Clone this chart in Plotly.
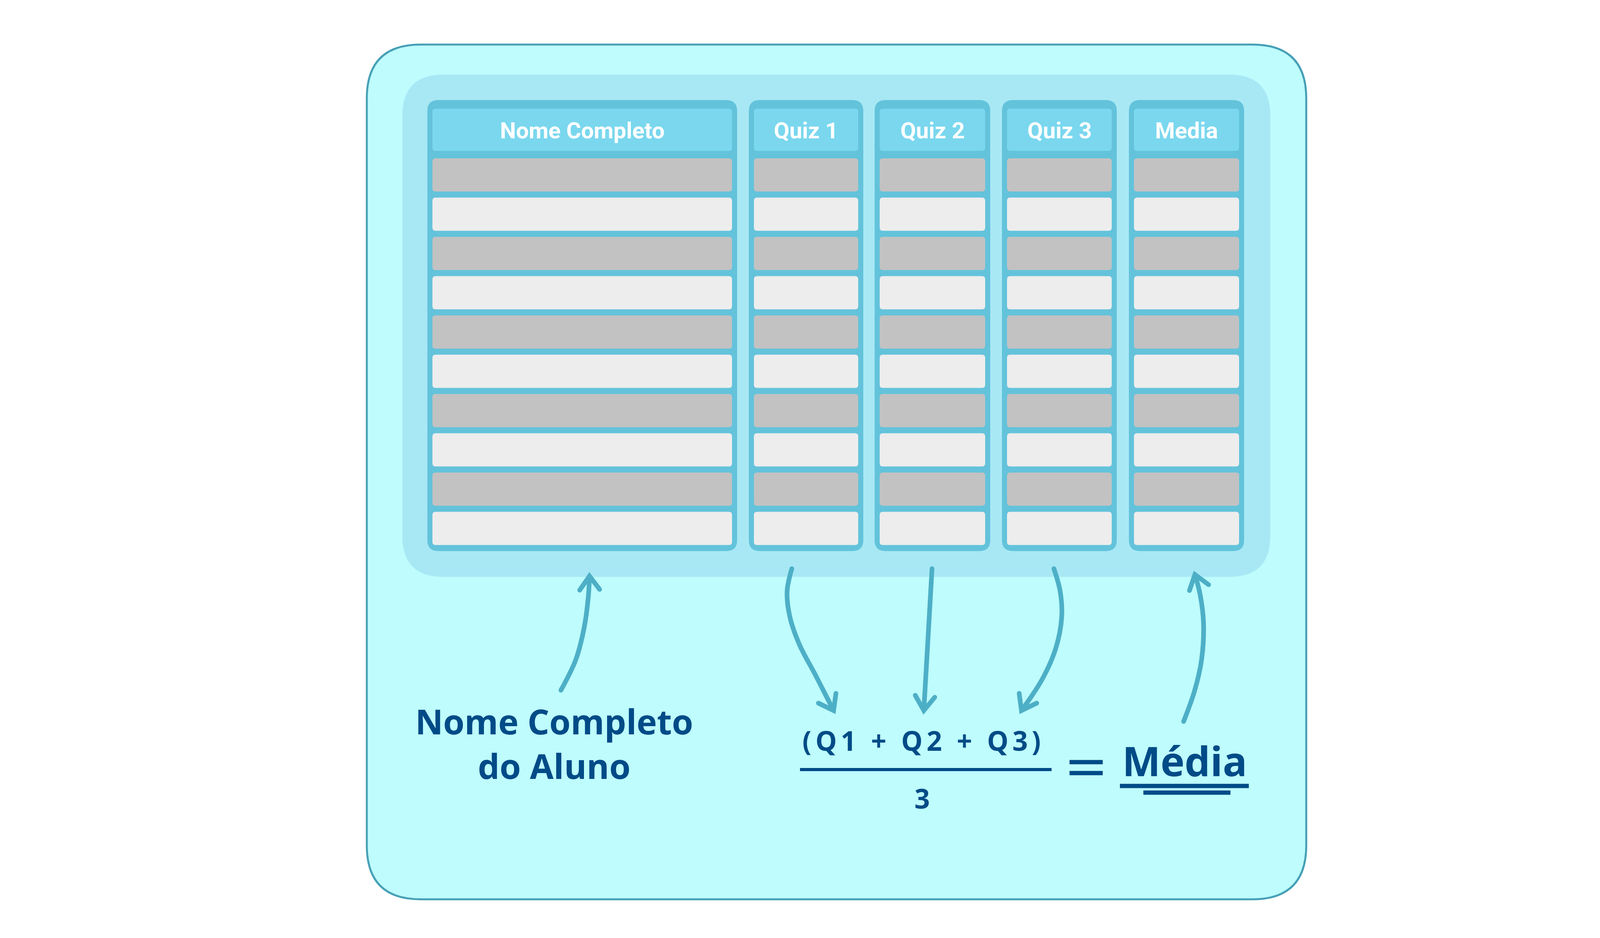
import plotly.graph_objects as pg

# %%
# table content
columns = ["Nome Completo", "Quiz 1", "Quiz 2", "Quiz 3", "Media"]
n_rows = 10
row_fill = ["#C2C2C2", "#EDEDED"]

left_label = ["Nome Completo", "do Aluno"]
formula_top = "(Q1 + Q2 + Q3)"
formula_bottom = "3"
result_label = "Média"

# %%
# geometry (pixels, y downwards)
W, H = 4269, 2400
outer_box = [931, 106, 3336, 2293]
panel_box = [1022, 183, 3244, 1468]
col_left = [1086, 1909, 2231, 2557, 2882]
col_right = [1879, 2202, 2527, 2851, 3177]
frame_top, frame_bottom = 248, 1402
head_top, head_bottom = 270, 378
row_top0, row_step, row_h = 397, 100.5, 85
inset = 13

arrow_name = [(1428, 1758), (1466, 1680), (1487, 1600), (1498, 1520), (1501, 1466)]
arrow_q1 = [(2019, 1447), (2007, 1505), (2014, 1570), (2038, 1640), (2080, 1720), (2126, 1810)]
arrow_q2 = [(2378, 1447), (2357, 1810)]
arrow_q3 = [(2690, 1447), (2706, 1505), (2710, 1570), (2695, 1650), (2660, 1730), (2607, 1810)]
arrow_media = [(3022, 1838), (3050, 1760), (3068, 1680), (3073, 1585), (3064, 1512), (3051, 1462)]
barbs_name = [(1476, 1502), (1527, 1500)]
barbs_q1 = [(2087, 1791), (2132, 1766)]
barbs_q2 = [(2335, 1771), (2385, 1776)]
barbs_q3 = [(2601, 1766), (2646, 1791)]
barbs_media = [(3037, 1503), (3086, 1488)]

arrow_color = "#4DAFC6"
text_color = "#004B87"


def rrect(x0, y0, x1, y1, r):
    return (f"M {x0 + r},{y0} L {x1 - r},{y0} Q {x1},{y0} {x1},{y0 + r} "
            f"L {x1},{y1 - r} Q {x1},{y1} {x1 - r},{y1} L {x0 + r},{y1} "
            f"Q {x0},{y1} {x0},{y1 - r} L {x0},{y0 + r} Q {x0},{y0} {x0 + r},{y0} Z")


# %%
fig = pg.Figure()
shapes = []

shapes.append(dict(type="path", path=rrect(*outer_box, 138), fillcolor="#BEFCFD",
                   line=dict(color="#46A0B6", width=5), layer="below"))
shapes.append(dict(type="path", path=rrect(*panel_box, 105), fillcolor="#A8E8F5",
                   line=dict(width=0), layer="below"))

for i, name in enumerate(columns):
    x0, x1 = col_left[i], col_right[i]
    shapes.append(dict(type="path", path=rrect(x0, frame_top, x1, frame_bottom, 28),
                       fillcolor="#63C3DB", line=dict(width=0), layer="below"))
    shapes.append(dict(type="path", path=rrect(x0 + inset, head_top, x1 - inset, head_bottom, 8),
                       fillcolor="#7AD7EE", line=dict(width=0), layer="below"))
    for r in range(n_rows):
        y0 = row_top0 + r * row_step
        shapes.append(dict(type="path", path=rrect(x0 + inset, y0, x1 - inset, y0 + row_h, 8),
                           fillcolor=row_fill[r % 2], line=dict(width=0), layer="below"))
    fig.add_annotation(x=(x0 + x1) / 2, y=(head_top + head_bottom) / 2 + 2, text=name,
                       showarrow=False, xanchor="center", yanchor="middle",
                       font=dict(family="Roboto", size=58, color="white", weight="bold"))

# fraction bar, equals sign, underlines
for (xa, ya, xb, yb, w) in [(2040, 1961, 2684, 1961, 8),
                            (2730, 1942, 2815, 1942, 11),
                            (2730, 1970, 2815, 1970, 11),
                            (2859, 2003, 3189, 2003, 11),
                            (2919, 2020, 3142, 2020, 11)]:
    shapes.append(dict(type="line", x0=xa, y0=ya, x1=xb, y1=yb,
                       line=dict(color=text_color, width=w)))

# arrows (markers at the points give the strokes round ends)
for pts, barbs in [(arrow_name, barbs_name), (arrow_q1, barbs_q1), (arrow_q2, barbs_q2),
                   (arrow_q3, barbs_q3), (arrow_media, barbs_media)]:
    fig.add_trace(pg.Scatter(x=[p[0] for p in pts], y=[p[1] for p in pts], mode="lines",
                             line=dict(color=arrow_color, width=12, shape="spline", smoothing=1),
                             hoverinfo="skip", showlegend=False))
    tip = pts[-1]
    fig.add_trace(pg.Scatter(x=[barbs[0][0], tip[0], barbs[1][0]],
                             y=[barbs[0][1], tip[1], barbs[1][1]], mode="lines",
                             line=dict(color=arrow_color, width=12),
                             hoverinfo="skip", showlegend=False))
    fig.add_trace(pg.Scatter(x=[pts[0][0], tip[0], barbs[0][0], barbs[1][0]],
                             y=[pts[0][1], tip[1], barbs[0][1], barbs[1][1]], mode="markers",
                             marker=dict(color=arrow_color, size=12, line=dict(width=0)),
                             hoverinfo="skip", showlegend=False))

# labels
fig.add_annotation(x=1410, y=1894, text="<br>".join(left_label), showarrow=False,
                   xanchor="center", yanchor="middle",
                   font=dict(family="Open Sans", size=88, color=text_color, weight="bold"))

fig.add_annotation(x=2356, y=1886, text=f'<span style="letter-spacing:10px">{formula_top}</span>',
                   showarrow=False, xanchor="center", yanchor="middle",
                   font=dict(family="Open Sans", size=69, color=text_color, weight="bold"))
fig.add_annotation(x=2352, y=2034, text=formula_bottom, showarrow=False, xanchor="center",
                   yanchor="middle", font=dict(family="Open Sans", size=69, color=text_color, weight="bold"))
fig.add_annotation(x=3025, y=1937, text=result_label, showarrow=False, xanchor="center",
                   yanchor="middle", font=dict(family="Open Sans", size=104, color=text_color, weight="bold"))

fig.update_layout(width=W, height=H, margin=dict(l=0, r=0, t=0, b=0),
                  paper_bgcolor="white", plot_bgcolor="white", shapes=shapes,
                  xaxis=dict(range=[0, W], visible=False, fixedrange=True),
                  yaxis=dict(range=[H, 0], visible=False, fixedrange=True))

fig.write_html("out.html")
